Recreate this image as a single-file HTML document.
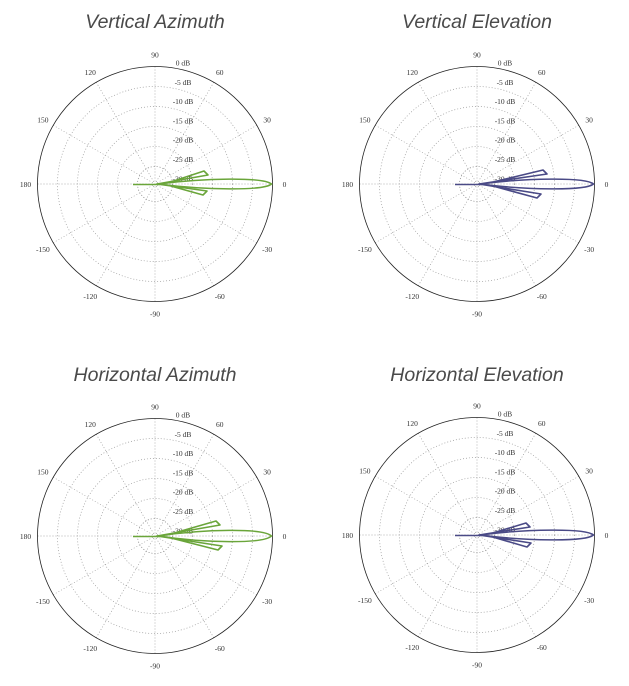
<!DOCTYPE html>
<html><head><meta charset="utf-8"><style>
html,body{margin:0;padding:0;background:#fff;width:629px;height:686px;overflow:hidden}
svg{display:block}
.t{font-family:"Liberation Sans",sans-serif;font-style:italic;font-size:19.5px;fill:#4a4a4a}
.l{font-family:"Liberation Serif",serif;font-size:7.5px;fill:#333}
</style></head><body>
<svg id="s" width="629" height="686" xmlns="http://www.w3.org/2000/svg">
<text class="t" x="155" y="28" text-anchor="middle">Vertical Azimuth</text>
<text class="t" x="477" y="28" text-anchor="middle">Vertical Elevation</text>
<text class="t" x="155" y="381" text-anchor="middle">Horizontal Azimuth</text>
<text class="t" x="477" y="381" text-anchor="middle">Horizontal Elevation</text>
</svg>
<script>
var s=document.getElementById('s'),NS='http://www.w3.org/2000/svg';
function el(t,a,txt){var e=document.createElementNS(NS,t);for(var k in a)e.setAttribute(k,a[k]);if(txt!=null)e.textContent=txt;s.appendChild(e);return e;}
function chart(cx,cy,col,t1,t2,mw){
 var R=117.5;
 for(var i=1;i<=5;i++)el('circle',{cx:cx,cy:cy,r:R-20*i,fill:'none',stroke:'#999','stroke-width':0.7,'stroke-dasharray':'1 2'});
 el('circle',{cx:cx,cy:cy,r:17.5,fill:'none',stroke:'#999','stroke-width':0.7,'stroke-dasharray':'1 2'});
 for(var a=0;a<180;a+=30){var r=a*Math.PI/180;el('line',{x1:cx-R*Math.cos(r),y1:cy+R*Math.sin(r),x2:cx+R*Math.cos(r),y2:cy-R*Math.sin(r),stroke:'#999','stroke-width':0.7,'stroke-dasharray':'1 2'});}
 el('circle',{cx:cx,cy:cy,r:R,fill:'none',stroke:'#222','stroke-width':0.8});
 var labs=[[0,'0'],[30,'30'],[60,'60'],[90,'90'],[120,'120'],[150,'150'],[180,'180'],[-150,'-150'],[-120,'-120'],[-90,'-90'],[-60,'-60'],[-30,'-30']];
 labs.forEach(function(p){var r=p[0]*Math.PI/180,d=R+12;el('text',{'class':'l',x:cx+d*Math.cos(r),y:cy-d*Math.sin(r)+3,'text-anchor':'middle'},p[1]);});
 ['0 dB','-5 dB','-10 dB','-15 dB','-20 dB','-25 dB','-30 dB'].forEach(function(t,i){el('text',{'class':'l',x:cx+28,y:cy-R+i*19.3-1,'text-anchor':'middle'},t);});
 el('line',{x1:cx-22,y1:cy+0.5,x2:cx+5,y2:cy+0.5,stroke:col,'stroke-width':1.4});
 var R2=R-1;
 el('path',{d:'M'+(cx+3)+','+cy+' C'+(cx+50)+','+(cy-mw)+' '+(cx+R2-8)+','+(cy-mw-1)+' '+(cx+R2)+','+cy+' C'+(cx+R2-8)+','+(cy+mw+1)+' '+(cx+50)+','+(cy+mw)+' '+(cx+3)+','+cy+'Z',fill:'none',stroke:col,'stroke-width':1.5});
 [t1,t2].forEach(function(t){var tx=cx+t[0],ty=cy+t[1],my=(ty>cy?1:-1);
  el('path',{d:'M'+(cx+2)+','+cy+' L'+tx+','+ty+' L'+(tx-4)+','+(ty+my*4)+' L'+(cx+14)+','+(cy+my*1.5)+'Z',fill:'none',stroke:col,'stroke-width':1.6,'stroke-linejoin':'round'});});
}
chart(155,184,'#6aa53a',[53,-9],[52,7],6);
chart(477,184,'#4a4a86',[70,-10],[64,10],6);
chart(155,536,'#6aa53a',[65,-11],[67,10],7);
chart(477,535,'#4a4a86',[53,-8],[54,8],6);
</script>
</body></html>
